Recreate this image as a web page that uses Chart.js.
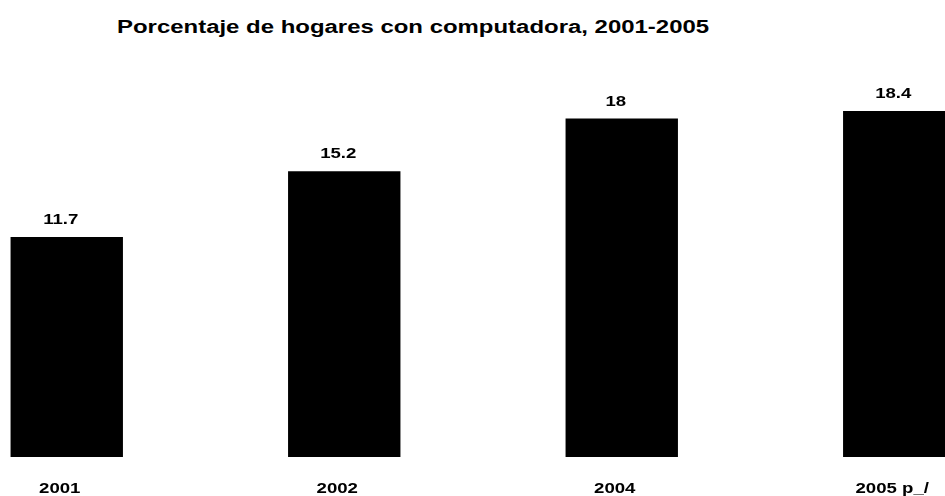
<!DOCTYPE html>
<html>
<head>
<meta charset="utf-8">
<script src="https://cdn.jsdelivr.net/npm/chart.js@4/dist/chart.umd.min.js"></script>
<style>
    html, body { margin: 0; padding: 0; background: #fff; }
    #wrap { position: relative; width: 945px; height: 496px; overflow: hidden; background: #fff; }
    #title { position: absolute; left: 117px; top: 18px; font: bold 18px "Liberation Sans", Arial, sans-serif; line-height: 18px; color: #000; white-space: nowrap; transform: scaleX(1.33); transform-origin: 0 0; }
    #box { position: absolute; left: -72px; top: 0; width: 1110px; height: 496px; }
</style>
</head>
<body>
<div id="wrap">
    <div id="title">Porcentaje de hogares con computadora, 2001-2005</div>
    <div id="box"><canvas id="chart"></canvas></div>
</div>
<script>
const years = ['2001', '2002', '2004', '2005 p_/'];
const porcentaje = [11.7, 15.2, 18, 18.4];

const FONT = '"Liberation Sans", Arial, sans-serif';
const STRETCH = 1.33; // el original está estirado en horizontal

function wideText(ctx, text, x, y) {
    ctx.save();
    ctx.translate(x, y);
    ctx.scale(STRETCH, 1);
    ctx.fillText(text, 0, 0);
    ctx.restore();
}

// valores encima de las barras y años debajo
const textLabels = {
    id: 'textLabels',
    afterDatasetsDraw(chart) {
        const ctx = chart.ctx;
        const meta = chart.getDatasetMeta(0);
        const xs = chart.scales.x;
        ctx.save();
        ctx.font = 'bold 14px ' + FONT;
        ctx.fillStyle = '#000';
        ctx.textAlign = 'center';
        ctx.textBaseline = 'alphabetic';
        meta.data.forEach((bar, i) => {
            wideText(ctx, String(porcentaje[i]), bar.x - 6, bar.y - 13);
        });
        years.forEach((y, i) => {
            wideText(ctx, y, xs.getPixelForTick(i) - 7, chart.chartArea.bottom + 36);
        });
        ctx.restore();
    }
};

new Chart(document.getElementById('chart').getContext('2d'), {
    type: 'bar',
    data: {
        labels: years,
        datasets: [{ data: porcentaje, backgroundColor: '#000', borderWidth: 0, categoryPercentage: 1, barPercentage: 0.405 }]
    },
    options: {
        responsive: true,
        maintainAspectRatio: false,
        animation: false,
        layout: { padding: { top: 81, left: 0, right: 0, bottom: 0 } },
        plugins: { legend: { display: false }, tooltip: { enabled: false }, title: { display: false } },
        scales: {
            y: { display: false, min: 0, max: 20 },
            x: {
                grid: { display: false, drawTicks: false },
                border: { display: false },
                ticks: { display: false },
                afterFit(scale) { scale.height = 39; }
            }
        }
    },
    plugins: [textLabels]
});
</script>
</body>
</html>
